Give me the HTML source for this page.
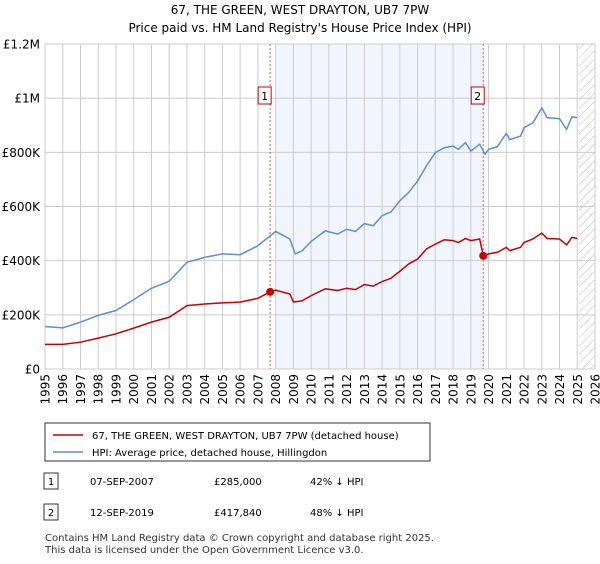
<!DOCTYPE html>
<html><head><meta charset="utf-8"><style>
body{margin:0;background:#fff;font-family:"DejaVu Sans","Liberation Sans",sans-serif;}
svg text{font-family:"DejaVu Sans","Liberation Sans",sans-serif;}
</style></head><body>
<svg id="c" width="600" height="560" xmlns="http://www.w3.org/2000/svg">
<defs><pattern id="h" width="6" height="6" patternUnits="userSpaceOnUse" patternTransform="rotate(45)"><line x1="0" y1="0" x2="0" y2="6" stroke="#bbb" stroke-width="1"/></pattern></defs>
<text x="300" y="14" font-size="12" text-anchor="middle">67, THE GREEN, WEST DRAYTON, UB7 7PW</text>
<text x="300" y="32" font-size="12" text-anchor="middle">Price paid vs. HM Land Registry's House Price Index (HPI)</text>
<g id="plot"></g>
<rect x="45" y="423" width="385" height="38" fill="#fff" stroke="#333"/>
<line x1="53" y1="435" x2="83" y2="435" stroke="#cc0000" stroke-width="1.5"/>
<text x="92" y="439" font-size="10">67, THE GREEN, WEST DRAYTON, UB7 7PW (detached house)</text>
<line x1="53" y1="452" x2="83" y2="452" stroke="#5b8fd6" stroke-width="1.5"/>
<text x="92" y="456" font-size="10">HPI: Average price, detached house, Hillingdon</text>
<rect x="44" y="473" width="14" height="16" fill="#fff" stroke="#333"/>
<text x="51" y="485" font-size="10" text-anchor="middle">1</text>
<text x="90" y="485" font-size="10">07-SEP-2007</text>
<text x="214" y="485" font-size="10">£285,000</text>
<text x="310" y="485" font-size="10">42% ↓ HPI</text>
<rect x="44" y="504" width="14" height="16" fill="#fff" stroke="#333"/>
<text x="51" y="516" font-size="10" text-anchor="middle">2</text>
<text x="90" y="516" font-size="10">12-SEP-2019</text>
<text x="214" y="516" font-size="10">£417,840</text>
<text x="310" y="516" font-size="10">48% ↓ HPI</text>
<text x="45" y="541" font-size="10" fill="#333">Contains HM Land Registry data © Crown copyright and database right 2025.</text>
<text x="45" y="553" font-size="10" fill="#333">This data is licensed under the Open Government Licence v3.0.</text>
</svg>
<script>
const hpiYears=[1995,1996,1997,1998,1999,2000,2001,2002,2003,2004,2005,2006,2007,2007.7,2008,2008.8,2009.1,2009.5,2010,2010.8,2011.5,2012,2012.5,2013,2013.5,2014,2014.5,2015,2015.5,2016,2016.5,2017,2017.5,2018,2018.3,2018.7,2019,2019.5,2019.8,2020,2020.5,2021,2021.2,2021.8,2022,2022.5,2023,2023.3,2024,2024.4,2024.7,2025];
const hpiValues=[157,152,173,198,216,256,298,324,394,412,425,422,455,492,508,480,425,437,471,510,498,516,508,537,529,566,580,621,652,694,750,799,817,823,811,836,805,830,793,811,821,870,847,860,891,909,964,928,924,885,931,928];
const priceYears=[1995,1996,1997,1998,1999,2000,2001,2002,2003,2004,2005,2006,2007,2007.69,2008,2008.8,2009,2009.5,2010,2010.8,2011.5,2012,2012.5,2013,2013.5,2014,2014.5,2015,2015.5,2016,2016.5,2017,2017.5,2018,2018.3,2018.7,2019,2019.5,2019.7,2020,2020.5,2021,2021.2,2021.8,2022,2022.5,2023,2023.3,2024,2024.4,2024.7,2025];
const priceValues=[91,91,99,114,130,151,173,191,234,240,244,247,261,285,291,277,247,252,271,296,290,298,293,312,306,323,335,361,388,406,443,461,477,474,467,482,474,480,418,425,431,449,437,449,467,480,502,482,480,458,486,482];
const saleYears=[2007.69,2019.70];
const saleValues=[285,417.84];
const saleLabels=["1","2"];
const yTicks=[0,200,400,600,800,1000,1200];
const yTickLabels=["£0","£200K","£400K","£600K","£800K","£1M","£1.2M"];
const xTicks=[1995,1996,1997,1998,1999,2000,2001,2002,2003,2004,2005,2006,2007,2008,2009,2010,2011,2012,2013,2014,2015,2016,2017,2018,2019,2020,2021,2022,2023,2024,2025,2026];

const L=45,R=595,T=44,B=369;
const x=v=>L+(v-1995)/(2026-1995)*(R-L);
const y=v=>B-v/1200*(B-T);
const g=document.getElementById('plot');
const NS='http://www.w3.org/2000/svg';
function mk(tag,attrs,parent){const e=document.createElementNS(NS,tag);for(const k in attrs)e.setAttribute(k,attrs[k]);(parent||g).appendChild(e);return e;}
let e;
e=mk('rect',{x:x(2008),y:T,width:x(saleYears[1])-x(2008),height:B-T,fill:'#eef3fc',opacity:0.8});


e=mk('rect',{x:x(2025.1),y:T,width:R-x(2025.1),height:B-T,fill:'url(#h)'});


xTicks.forEach(t=>{
  e=mk('line',{x1:x(t),y1:T,x2:x(t),y2:B,stroke:'#ccc','stroke-width':1});
  
  
  e=mk('text',{x:0,y:0,'font-size':12,'text-anchor':'end',transform:`translate(${x(t)+4.5},${B+5}) rotate(-90)`});
  e.textContent=t;
  
  
});
yTicks.forEach((t,i)=>{
  e=mk('line',{x1:L,y1:y(t),x2:R,y2:y(t),stroke:'#ccc','stroke-width':1});
  
  
  e=mk('text',{x:L-5,y:y(t)+4.5,'font-size':12,'text-anchor':'end'});
  e.textContent=yTickLabels[i];
  
  
});
saleYears.forEach((s,i)=>{
  e=mk('line',{x1:x(s),y1:T,x2:x(s),y2:B,stroke:'#e06060','stroke-width':1,'stroke-dasharray':'2,2'});
  
  
});
function line(xs,vs,col,name){
  e=mk('polyline',{points:xs.map((t,i)=>x(t)+','+y(vs[i])).join(' '),fill:'none',stroke:col,'stroke-width':1.5});
  
  
}
line(hpiYears,hpiValues,'#5b8fd6','hpi-line');
line(priceYears,priceValues,'#cc0000','price-line');
saleYears.forEach((s,i)=>{
  e=mk('circle',{cx:x(s),cy:y(saleValues[i]),r:4,fill:'#cc0000'});
  
  
  e=mk('rect',{x:x(s)-12,y:87,width:13,height:17,fill:'#fff',stroke:'#cc0000'});
  
  
  e=mk('text',{x:x(s)-5.5,y:100,'font-size':11,'text-anchor':'middle'});
  e.textContent=saleLabels[i];
  
  
});
</script>
</body></html>
